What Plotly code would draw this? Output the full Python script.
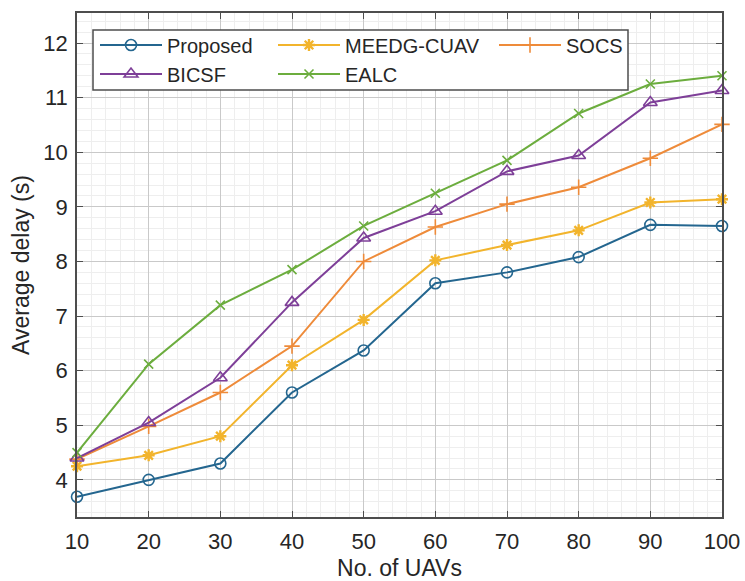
import plotly.graph_objects as go

x_uavs = [10, 20, 30, 40, 50, 60, 70, 80, 90, 100]
proposed = [3.69, 4.00, 4.30, 5.60, 6.37, 7.60, 7.80, 8.08, 8.67, 8.65]
meedg_cuav = [4.25, 4.45, 4.80, 6.10, 6.93, 8.02, 8.30, 8.57, 9.08, 9.14]
socs = [4.38, 4.98, 5.60, 6.45, 8.00, 8.63, 9.05, 9.36, 9.89, 10.51]
bicsf = [4.40, 5.05, 5.87, 7.25, 8.43, 8.92, 9.65, 9.94, 10.91, 11.13]
ealc = [4.50, 6.12, 7.20, 7.85, 8.65, 9.25, 9.85, 10.71, 11.25, 11.40]

x_ticks = [10, 20, 30, 40, 50, 60, 70, 80, 90, 100]
y_ticks = [4, 5, 6, 7, 8, 9, 10, 11, 12]

FONT = "Liberation Sans, Arial, Helvetica, sans-serif"

series = [
    ("Proposed", proposed, "#24668f", "circle-open", 11, 1.6, "legend"),
    ("MEEDG-CUAV", meedg_cuav, "#f2b42c", "asterisk-open", 10, 2.4, "legend2"),
    ("SOCS", socs, "#ee8b3a", "cross-thin-open", 11, 1.6, "legend3"),
    ("BICSF", bicsf, "#7e3f98", "triangle-up-open", 12, 1.6, "legend4"),
    ("EALC", ealc, "#6cad3e", "x-thin-open", 9, 1.6, "legend5"),
]

fig = go.Figure()
for name, vals, col, sym, sz, mlw, lg in series:
    fig.add_trace(go.Scatter(
        x=x_uavs, y=vals, name=name, mode="lines+markers",
        line=dict(color=col, width=2),
        marker=dict(symbol=sym, size=sz, color=col, line=dict(color=col, width=mlw)),
        legend=lg, cliponaxis=False,
    ))

W, H = 745, 581
L, R, T, B = 77, 23, 13, 64
pw, ph = W - L - R, H - T - B

def px2paper_x(px):
    return (px - L) / pw

def px2paper_y(py):
    return (H - B - py) / ph

leg_common = dict(orientation="h", bgcolor="rgba(0,0,0,0)", borderwidth=0,
                  font=dict(family=FONT, size=20, color="#262626"),
                  itemwidth=62, xanchor="left", yanchor="middle", tracegroupgap=0)

row1, row2 = 45, 74
c1, c2, c3 = 95, 273, 494
layout_legs = {
    "legend": dict(x=px2paper_x(c1), y=px2paper_y(row1), **leg_common),
    "legend2": dict(x=px2paper_x(c2), y=px2paper_y(row1), **leg_common),
    "legend3": dict(x=px2paper_x(c3), y=px2paper_y(row1), **leg_common),
    "legend4": dict(x=px2paper_x(c1), y=px2paper_y(row2), **leg_common),
    "legend5": dict(x=px2paper_x(c2), y=px2paper_y(row2), **leg_common),
}

axis_common = dict(
    showline=True, linecolor="#4d4d4d", linewidth=1.5, mirror="ticks",
    ticks="inside", ticklen=6, tickcolor="#4d4d4d", tickwidth=1.2,
    showgrid=True, gridcolor="#c9c9c9", gridwidth=1, zeroline=False,
    tickfont=dict(family=FONT, size=22, color="#262626"),
)

fig.update_layout(
    width=W, height=H,
    margin=dict(l=L, r=R, t=T, b=B, autoexpand=False),
    paper_bgcolor="white", plot_bgcolor="white",
    font=dict(family=FONT, color="#262626"),
    showlegend=True,
    xaxis=dict(range=[10, 100], tickvals=x_ticks, ticktext=[str(v) for v in x_ticks],
               title=dict(text="No. of UAVs", font=dict(family=FONT, size=23, color="#262626"), standoff=7),
               ticklabelstandoff=4,
               minor=dict(dtick=2, showgrid=True, gridcolor="#eeeeee", gridwidth=1, ticks=""),
               **axis_common),
    yaxis=dict(range=[3.32, 12.55], tickvals=y_ticks, ticktext=[str(v) for v in y_ticks],
               title=dict(text="Average delay (s)", font=dict(family=FONT, size=23, color="#262626"), standoff=7),
               ticklabelstandoff=3,
               minor=dict(dtick=0.2, showgrid=True, gridcolor="#eeeeee", gridwidth=1, ticks=""),
               **axis_common),
    shapes=[dict(type="rect", xref="paper", yref="paper",
                 x0=px2paper_x(93), x1=px2paper_x(628), y0=px2paper_y(90), y1=px2paper_y(30),
                 line=dict(color="#4d4d4d", width=1.5), fillcolor="white", layer="above")],
    **layout_legs,
)

fig.write_html("out.html", config={"displayModeBar": False},
               post_script="document.body.style.margin='0';document.body.style.padding='0';")
